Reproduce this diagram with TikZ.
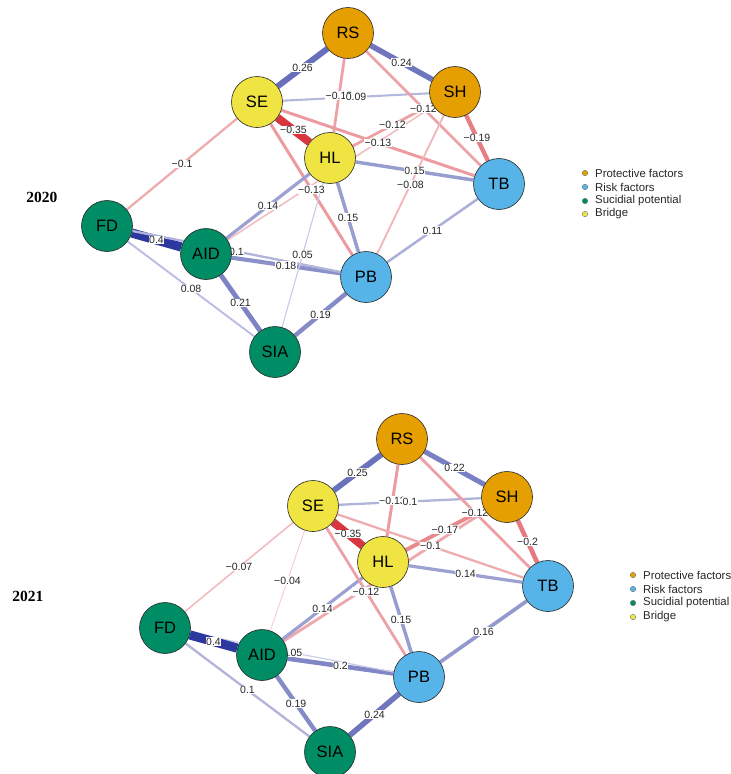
\documentclass[tikz,border=0pt]{standalone}
\usepackage{fontspec}
\setmainfont{Liberation Sans}
\newfontfamily\yearfont{Liberation Serif}
\usetikzlibrary{positioning}
\definecolor{protc}{RGB}{230,159,0}
\definecolor{riskc}{RGB}{86,180,233}
\definecolor{suic}{RGB}{0,141,101}
\definecolor{bridc}{RGB}{240,228,66}
\definecolor{posblue}{RGB}{45,55,160}
\definecolor{negred}{RGB}{212,34,44}
\pgfdeclarelayer{edgelayer}
\pgfsetlayers{edgelayer,main}

\begin{document}
\begin{tikzpicture}[x=1pt,y=-1pt,
 nd/.style={circle,draw=black!85,line width=0.6pt,minimum size=51pt,inner sep=0pt,font=\fontsize{16.5}{18}\selectfont},
 lab/.style={fill=white,inner sep=0.5pt,font=\fontsize{10.5}{12}\selectfont,text=black!85},
 dot/.style={circle,draw=black!55,line width=0.4pt,minimum size=5.5pt,inner sep=0pt},
 leg/.style={inner sep=0pt,font=\fontsize{11.4}{13}\selectfont,text=black!85},
 yr/.style={font=\yearfont\bfseries\fontsize{15.5}{18}\selectfont}]
\useasboundingbox (0,0) rectangle (731,774);

% 2020
\node[yr] (y20) at (42,197) {2020};
\node[nd,fill=protc] (RSa) at (348,33) {RS};
\node[nd,fill=protc] (SHa) at (455,92) {SH};
\node[nd,fill=bridc] (SEa) at (257,102) {SE};
\node[nd,fill=bridc] (HLa) at (330,158) {HL};
\node[nd,fill=riskc] (TBa) at (499,184) {TB};
\node[nd,fill=suic] (FDa) at (107,226) {FD};
\node[nd,fill=suic] (AIDa) at (206,254) {AID};
\node[nd,fill=riskc] (PBa) at (366,277) {PB};
\node[nd,fill=suic] (SIAa) at (275,352) {SIA};

% 2021
\node[yr] (y21) at (28,596) {2021};
\node[nd,fill=protc] (RSb) at (402,439) {RS};
\node[nd,fill=protc] (SHb) at (507,497) {SH};
\node[nd,fill=bridc] (SEb) at (313,506) {SE};
\node[nd,fill=bridc] (HLb) at (383,562) {HL};
\node[nd,fill=riskc] (TBb) at (548,586) {TB};
\node[nd,fill=suic] (FDb) at (165,628) {FD};
\node[nd,fill=suic] (AIDb) at (262,655) {AID};
\node[nd,fill=riskc] (PBb) at (419,677) {PB};
\node[nd,fill=suic] (SIAb) at (330,752) {SIA};

% legends
\node[dot,fill=protc] (lpa) at (585,173) {};
\node[dot,fill=riskc] (lra) at (585,187) {};
\node[dot,fill=suic] (lsa) at (585,201) {};
\node[dot,fill=bridc] (lba) at (585,214) {};
\node[leg,right=7pt of lpa] {Protective factors};
\node[leg,right=7pt of lra] {Risk factors};
\node[leg,right=7pt of lsa] {Sucidial potential};
\node[leg,right=7pt of lba] {Bridge};
\node[dot,fill=protc] (lpb) at (633,575) {};
\node[dot,fill=riskc] (lrb) at (633,589) {};
\node[dot,fill=suic] (lsb) at (633,603) {};
\node[dot,fill=bridc] (lbb) at (633,617) {};
\node[leg,right=7pt of lpb] {Protective factors};
\node[leg,right=7pt of lrb] {Risk factors};
\node[leg,right=7pt of lsb] {Sucidial potential};
\node[leg,right=7pt of lbb] {Bridge};

% edges: from/to/sign/weight
\def\edgelist{RSa/SEa/p/0.26, RSa/SHa/p/0.24, RSa/HLa/n/0.12, SEa/SHa/p/0.09,
 RSa/TBa/n/0.12, SHa/HLa/n/0.12, SEa/TBa/n/0.13, SEa/HLa/n/0.35, SHa/TBa/n/0.19,
 HLa/TBa/p/0.15, SHa/PBa/n/0.08, SEa/PBa/n/0.13, SEa/FDa/n/0.1, FDa/AIDa/p/0.4,
 AIDa/HLa/p/0.14, HLa/PBa/p/0.15, TBa/PBa/p/0.11, AIDa/PBa/p/0.18, FDa/PBa/p/0.1,
 SIAa/HLa/p/0.05, FDa/SIAa/p/0.08, AIDa/SIAa/p/0.21, SIAa/PBa/p/0.19,
 RSb/SEb/p/0.25, RSb/SHb/p/0.22, RSb/HLb/n/0.13, SEb/SHb/p/0.1,
 RSb/TBb/n/0.12, SHb/HLb/n/0.17, SEb/TBb/n/0.1, SEb/HLb/n/0.35, SHb/TBb/n/0.2,
 HLb/TBb/p/0.14, SEb/FDb/n/0.07, SEb/AIDb/n/0.04, AIDb/HLb/p/0.14, SEb/PBb/n/0.12,
 HLb/PBb/p/0.15, AIDb/PBb/p/0.2, FDb/PBb/p/0.05, FDb/SIAb/p/0.1, AIDb/SIAb/p/0.19,
 SIAb/PBb/p/0.24, TBb/PBb/p/0.16, FDb/AIDb/p/0.4}

\begin{pgfonlayer}{edgelayer}
\draw[line width=1.6pt,draw=negred!30!white] (AIDa)--(SHa);
\draw[line width=2.8pt,draw=negred!40!white] (AIDb)--(SHb);
\foreach \a/\b/\s/\v in \edgelist {
  \pgfmathsetmacro\pc{10+90*pow(\v/0.4,0.85)}
  \pgfmathsetmacro\wd{23*\v}
  \if\s n\def\ec{negred}\else\def\ec{posblue}\fi
  \draw[line width=\wd pt,draw=\ec!\pc!white] (\a)--(\b);
}
\foreach \a/\b/\s/\v in \edgelist
  \path (\a)--(\b) node[lab,midway] {\if\s n−\fi\v};
\end{pgfonlayer}
\end{tikzpicture}
\end{document}
